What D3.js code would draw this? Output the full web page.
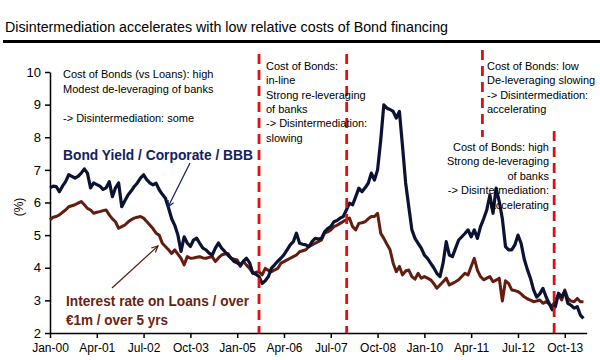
<!DOCTYPE html>
<html>
<head>
<meta charset="utf-8">
<script src="https://cdn.jsdelivr.net/npm/d3@7"></script>
<style>
  html, body { margin: 0; padding: 0; background: #fff; }
  svg { display: block; font-family: "Liberation Sans", Arial, sans-serif; }
</style>
</head>
<body>
<svg id="chart" width="600" height="360"></svg>
<script>
// ---- Data (monthly, Jan-2000 .. Apr-2014) ----
const startYear = 2000;
const bondYield = [
  6.45,6.5,6.49,6.33,6.5,6.64,6.85,6.8,6.75,6.8,6.9,7.03,
  6.9,6.45,6.6,6.55,6.5,6.4,6.45,6.64,6.18,6.45,6.6,5.87,
  6.05,6.23,6.35,6.49,6.6,6.75,6.85,6.7,6.6,6.54,6.59,6.39,
  6.25,6.13,5.83,5.5,5.3,5.0,4.5,4.95,4.76,4.65,4.85,4.91,
  4.75,4.6,4.55,4.45,4.39,4.6,4.76,4.6,4.5,4.39,4.3,4.19,
  4.15,4.09,4.2,4.29,4.15,3.84,3.8,3.73,3.52,3.6,3.73,3.99,
  4.09,4.2,4.29,4.4,4.55,4.7,4.8,5.06,4.75,4.72,4.7,4.65,
  4.8,4.9,4.88,4.9,5.1,5.2,5.26,5.41,5.45,5.52,5.57,5.77,
  5.98,5.93,6.18,6.44,6.33,6.45,6.59,6.9,6.69,7.0,7.9,8.99,
  8.89,8.85,8.79,8.59,8.79,7.72,6.6,5.87,5.16,4.9,4.75,4.6,
  4.39,4.29,4.14,4.0,3.83,3.73,4.14,4.8,4.39,4.34,4.6,4.85,
  4.95,5.05,5.16,4.95,5.16,4.9,5.26,5.5,5.77,6.23,5.67,6.44,
  6.03,5.5,4.65,4.55,4.55,4.7,5.0,4.75,4.27,3.95,3.68,3.32,
  3.1,3.2,3.37,3.11,2.9,2.71,2.81,3.22,3.11,3.27,2.91,2.85,
  2.76,2.81,2.55,2.45
];
const loanRate = [
  5.47,5.55,5.57,5.62,5.7,5.77,5.87,5.9,5.93,5.98,6.03,5.93,
  5.82,5.77,5.67,5.7,5.72,5.75,5.77,5.62,5.5,5.41,5.21,5.26,
  5.31,5.4,5.47,5.52,5.55,5.57,5.52,5.42,5.31,5.2,5.06,5.0,
  4.75,4.65,4.55,4.44,4.55,4.42,4.29,4.09,4.34,4.29,4.3,4.32,
  4.34,4.3,4.29,4.32,4.34,4.19,4.3,4.39,4.42,4.44,4.29,4.26,
  4.24,4.04,4.19,4.08,3.98,3.83,3.86,3.88,3.78,3.98,3.92,3.88,
  3.93,3.98,4.14,4.19,4.24,4.29,4.34,4.39,4.49,4.52,4.55,4.65,
  4.7,4.75,4.8,4.85,5.06,5.1,5.16,5.26,5.3,5.36,5.42,5.47,
  5.52,5.26,5.16,5.36,5.38,5.41,5.5,5.57,5.57,5.67,5.06,4.9,
  4.72,4.55,4.14,3.88,4.04,3.78,3.9,3.93,3.73,3.65,3.83,3.68,
  3.73,3.68,3.63,3.52,3.37,3.47,3.57,3.68,3.47,3.52,3.57,3.63,
  3.73,3.83,3.78,4.04,4.29,3.93,3.73,3.63,3.68,3.73,3.57,3.62,
  3.68,2.98,3.6,3.52,3.32,3.3,3.27,3.2,3.11,3.05,3.01,2.96,
  2.98,3.01,2.91,2.96,2.9,2.81,3.01,3.17,3.01,3.32,3.06,2.98,
  2.96,3.06,2.96,2.96
];
const xTickMonths = [0,15,30,45,60,75,90,105,120,135,150,165];
const xTickLabels = ["Jan-00","Apr-01","Jul-02","Oct-03","Jan-05","Apr-06","Jul-07","Oct-08","Jan-10","Apr-11","Jul-12","Oct-13"];
const yTicks = [2,3,4,5,6,7,8,9,10];
const regimeMonths = [67, 95.1, 138.6, 161.6];   // dashed regime dividers
const titleText = "Disintermediation accelerates with low relative costs of Bond financing";
const note1 = ["Cost of Bonds (vs Loans): high","Modest de-leveraging of banks","","-> Disintermediation: some"];
const note2 = ["Cost of Bonds:","in-line","Strong re-leveraging","of banks","-> Disintermediation:","slowing"];
const note3 = ["Cost of Bonds: low","De-leveraging slowing","-> Disintermediation:","accelerating"];
const note4 = ["Cost of Bonds: high","Strong de-leveraging","of banks","-> Disintermediation:","accelerating"];
const bondLabel = "Bond Yield / Corporate / BBB";
const loanLabel = ["Interest rate on Loans / over","€1m / over 5 yrs"];

// ---- Layout ----
const svg = d3.select("#chart");
const x = d3.scaleLinear().domain([0, 172]).range([50, 586.6]);
const y = d3.scaleLinear().domain([2, 10]).range([333, 72]);

// title
svg.append("text").attr("x", 5).attr("y", 32)
  .attr("font-size", 14).attr("fill", "#000")
  .attr("textLength", 443).attr("lengthAdjust", "spacingAndGlyphs")
  .text(titleText);
svg.append("line").attr("x1", 3).attr("x2", 600).attr("y1", 41.5).attr("y2", 41.5)
  .attr("stroke", "#000").attr("stroke-width", 3);

// axes
const yAxis = d3.axisLeft(y).tickValues(yTicks).tickSize(5).tickSizeOuter(0).tickFormat(d3.format("d"));
const gy = svg.append("g").attr("transform", "translate(50,0)").call(yAxis);
gy.select(".domain").attr("stroke", "#000").attr("stroke-width", 1.5);
gy.selectAll(".tick line").attr("stroke", "#000").attr("stroke-width", 1.5);
gy.selectAll(".tick text").attr("font-size", 13).attr("fill", "#000")
  .attr("font-family", "Liberation Sans, Arial, sans-serif").attr("x", -9);

const xAxis = d3.axisBottom(x).tickValues(xTickMonths).tickSize(5).tickSizeOuter(0)
  .tickFormat((d, i) => xTickLabels[i]);
const gx = svg.append("g").attr("transform", "translate(0,333)").call(xAxis);
gx.select(".domain").attr("stroke", "#000").attr("stroke-width", 1.5);
gx.selectAll(".tick line").attr("stroke", "#000").attr("stroke-width", 1.5);
gx.selectAll(".tick text").attr("font-size", 12).attr("fill", "#000")
  .attr("font-family", "Liberation Sans, Arial, sans-serif").attr("y", 10);

svg.append("text").attr("transform", "translate(23,207) rotate(-90)")
  .attr("text-anchor", "middle").attr("font-size", 12).text("(%)");

// lines
const line = d3.line().x((d, i) => x(i)).y(d => y(d));
svg.append("path").datum(loanRate).attr("d", line)
  .attr("fill", "none").attr("stroke", "#621d0e").attr("stroke-width", 3).attr("stroke-linejoin", "round");
svg.append("path").datum(bondYield).attr("d", line)
  .attr("fill", "none").attr("stroke", "#0b1233").attr("stroke-width", 3.2).attr("stroke-linejoin", "round");

// regime dividers
const dividerSpans = [[54, 333], [54, 333], [50, 137], [131, 333]];
regimeMonths.forEach((m, i) => {
  svg.append("line").attr("x1", x(m)).attr("x2", x(m))
    .attr("y1", dividerSpans[i][0]).attr("y2", dividerSpans[i][1])
    .attr("stroke", "#dd1111").attr("stroke-width", 2.8).attr("stroke-dasharray", "10,6");
});

// annotations
function note(lines, xPos, y0, lh, anchor) {
  const t = svg.append("text").attr("font-size", 11).attr("fill", "#000")
    .attr("text-anchor", anchor || "start");
  lines.forEach((s, i) => {
    t.append("tspan").attr("x", xPos).attr("y", y0 + i * lh).text(s);
  });
}
note(note1, 63, 78, 14.5);
note(note2, 266, 70, 14.3);
note(note3, 487, 70, 14.3);
note(note4, 549, 151, 14.4, "end");

// series labels
svg.append("text").attr("x", 63).attr("y", 160).attr("font-size", 15).attr("font-weight", "bold")
  .attr("fill", "#13205e").attr("textLength", 190).attr("lengthAdjust", "spacingAndGlyphs")
  .text(bondLabel);
const loanLens = [183, 102];
loanLabel.forEach((s, i) => svg.append("text").attr("x", 66).attr("y", 306 + i * 18.5)
  .attr("font-size", 15).attr("font-weight", "bold").attr("fill", "#6a2410")
  .attr("textLength", loanLens[i]).attr("lengthAdjust", "spacingAndGlyphs").text(s));

// pointer arrows
function arrow(x1, y1, x2, y2, color) {
  svg.append("line").attr("x1", x1).attr("y1", y1).attr("x2", x2).attr("y2", y2)
    .attr("stroke", color).attr("stroke-width", 1.2);
  const a = Math.atan2(y2 - y1, x2 - x1), L = 7, w = 0.45;
  const p = [[x2 - L * Math.cos(a - w), y2 - L * Math.sin(a - w)], [x2, y2],
             [x2 - L * Math.cos(a + w), y2 - L * Math.sin(a + w)]];
  svg.append("polyline").attr("points", p.map(q => q.join(",")).join(" "))
    .attr("fill", "none").attr("stroke", color).attr("stroke-width", 1.2);
}
arrow(190, 163, 168, 207, "#13205e");
arrow(112, 288, 158, 246, "#5e1a0c");
</script>
</body>
</html>
